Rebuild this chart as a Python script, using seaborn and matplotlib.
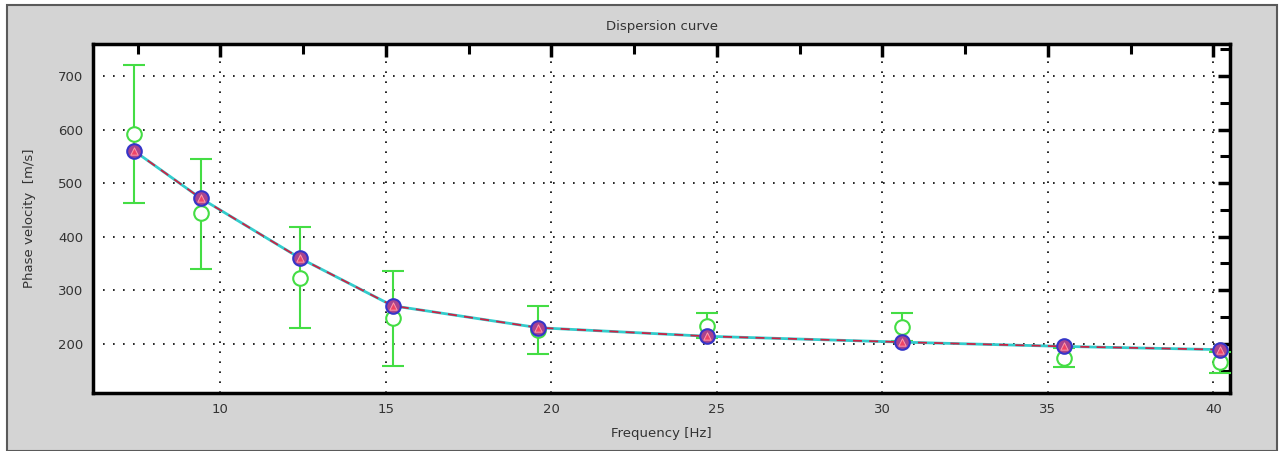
import matplotlib
matplotlib.use("Agg")
import matplotlib.pyplot as plt
from matplotlib.patches import Rectangle
from matplotlib.ticker import MultipleLocator
import seaborn as sns
import pandas as pd

# frequencies of the picked points [Hz]
freq = [7.4, 9.4, 12.4, 15.2, 19.6, 24.7, 30.6, 35.5, 40.2]
# model (theoretical) phase velocity [m/s]
model_vel = [560, 472, 360, 271, 230, 214, 203, 195, 189]
# observed phase velocity and its error bar limits [m/s]
obs_vel = [592, 444, 323, 249, 226, 234, 232, 174, 166]
obs_low = [463, 340, 230, 159, 181, 210, 205, 157, 146]
obs_high = [720, 545, 418, 336, 271, 258, 258, 192, 185]

df = pd.DataFrame({"freq": freq, "model": model_vel, "obs": obs_vel})
err_lo = [v - lo for v, lo in zip(obs_vel, obs_low)]
err_hi = [hi - v for v, hi in zip(obs_vel, obs_high)]

sns.set_style("white")
plt.rcParams["font.family"] = ["DejaVu Sans"]

fig = plt.figure(figsize=(12.8, 4.51), dpi=100, facecolor="white")
# grey panel behind the plot
fig.patches.append(Rectangle((7 / 1280, 0), 1270 / 1280, 446 / 451,
                             transform=fig.transFigure, facecolor="#d4d4d4",
                             edgecolor="#5a5a5a", linewidth=1.5, zorder=-10))
ax = fig.add_axes([93 / 1280, 58 / 451, 1137 / 1280, 349 / 451])
ax.set_facecolor("white")

# observed values with error bars
ax.errorbar(df["freq"], df["obs"], yerr=[err_lo, err_hi], fmt="none",
            ecolor="#44dd44", elinewidth=1.5, capsize=8, capthick=1.5, zorder=3)
sns.scatterplot(data=df, x="freq", y="obs", ax=ax, marker="o", s=110,
                facecolor="white", edgecolor="#44dd44", linewidth=1.5, zorder=4)

# model curve: cyan line with red dashes over it
sns.lineplot(data=df, x="freq", y="model", ax=ax, color="#33cccc", linewidth=2.0, zorder=5)
sns.lineplot(data=df, x="freq", y="model", ax=ax, color="#cc2244", linewidth=1.3,
             linestyle=(0, (5, 4)), zorder=6)
sns.scatterplot(data=df, x="freq", y="model", ax=ax, marker="o", s=110,
                facecolor="#a8438f", edgecolor="#3535c8", linewidth=1.5, zorder=7)
sns.scatterplot(data=df, x="freq", y="model", ax=ax, marker="^", s=28,
                facecolor="#ee4466", edgecolor="#ff99aa", linewidth=0.7, zorder=8)

ax.set_xlim(6.15, 40.5)
ax.set_ylim(108, 760)
ax.xaxis.set_major_locator(MultipleLocator(5))
ax.xaxis.set_minor_locator(MultipleLocator(2.5))
ax.yaxis.set_major_locator(MultipleLocator(100))
ax.yaxis.set_minor_locator(MultipleLocator(50))
ax.set_yticks([200, 300, 400, 500, 600, 700])

ax.grid(True, which="major", color="black", linestyle=(0, (1, 5)), linewidth=1.2)
ax.tick_params(which="both", direction="in", top=True, right=True, color="black",
               labelsize=9.5, labelcolor="#333333", pad=7)
ax.tick_params(which="major", length=9, width=2.5)
ax.tick_params(which="minor", length=7, width=2.2)
for side in ["top", "bottom", "left", "right"]:
    ax.spines[side].set_color("black")
    ax.spines[side].set_linewidth(2.5)
    ax.spines[side].set_visible(True)

ax.set_xlabel("Frequency [Hz]", fontsize=9.5, color="#333333", labelpad=8)
ax.set_ylabel("Phase velocity  [m/s]", fontsize=9.5, color="#333333", labelpad=16)
ax.set_title("Dispersion curve", fontsize=9.5, color="#333333", pad=10)

fig.savefig("out.png", dpi=100, facecolor=fig.get_facecolor())
